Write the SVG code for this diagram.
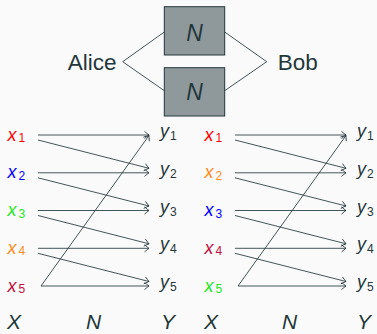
<svg xmlns="http://www.w3.org/2000/svg" width="377" height="334" viewBox="0 0 377 334">
<style>
text{font-family:"Liberation Sans","Noto Sans",sans-serif;fill:#23373b}
.lbl{font-size:18px;font-style:italic}
.sub{font-size:12px;font-style:normal}
.big{font-size:23px;font-style:italic}
.axis{font-size:21px;font-style:italic}
.name{font-size:22.5px}
.box{fill:#8f999c;stroke:#23373b;stroke-width:1}
.c{stroke:#23373b;stroke-width:0.85;fill:none}
.a{marker-end:url(#arr)}
</style>
<defs>
<marker id="arr" markerUnits="userSpaceOnUse" markerWidth="10" markerHeight="10" viewBox="-6 -5 8 10" refX="0" refY="0" orient="auto" overflow="visible">
<path d="M-4.5,-3.6 Q-1.5,-1 0,0 Q-1.5,1 -4.5,3.6" fill="none" stroke="#23373b" stroke-width="0.85"/>
</marker>
</defs>
<rect width="377" height="334" fill="#fafafa"/>

<g id="connectors">
<path class="c" d="M122.7,61.7 L164.3,32 M122.7,61.7 L164.3,90.7 M266.7,61.7 L224.7,32 M266.7,61.7 L224.7,90.7"/>
<!-- left panel -->
<line class="c a" x1="38" y1="135" x2="149" y2="135"/>
<line class="c a" x1="38" y1="172.8" x2="149" y2="172.8"/>
<line class="c a" x1="38" y1="210.5" x2="149" y2="210.5"/>
<line class="c a" x1="38" y1="248.3" x2="149" y2="248.3"/>
<line class="c a" x1="41" y1="286" x2="149" y2="286"/>
<line class="c a" x1="38" y1="140" x2="149" y2="168.3"/>
<line class="c a" x1="38" y1="177.8" x2="149" y2="206"/>
<line class="c a" x1="38" y1="215.5" x2="149" y2="243.8"/>
<line class="c a" x1="38" y1="253.3" x2="149" y2="281.5"/>
<line class="c a" x1="41" y1="286" x2="149" y2="135.5"/>
<!-- right panel -->
<line class="c a" x1="235" y1="135" x2="346" y2="135"/>
<line class="c a" x1="235" y1="172.8" x2="346" y2="172.8"/>
<line class="c a" x1="235" y1="210.5" x2="346" y2="210.5"/>
<line class="c a" x1="235" y1="248.3" x2="346" y2="248.3"/>
<line class="c a" x1="238" y1="286" x2="346" y2="286"/>
<line class="c a" x1="235" y1="140" x2="346" y2="168.3"/>
<line class="c a" x1="235" y1="177.8" x2="346" y2="206"/>
<line class="c a" x1="235" y1="215.5" x2="346" y2="243.8"/>
<line class="c a" x1="235" y1="253.3" x2="346" y2="281.5"/>
<line class="c a" x1="238" y1="286" x2="346" y2="135.5"/>
</g>

<g id="alice"><text class="name" x="67.7" y="70">Alice</text></g>
<g id="bob"><text class="name" x="277.7" y="70">Bob</text></g>
<g id="channel1">
<rect class="box" x="164.3" y="6.7" width="60.4" height="48.3"/>
<text class="big" x="194.5" y="40.5" text-anchor="middle">N</text>
</g>
<g id="channel2">
<rect class="box" x="164.3" y="67.7" width="60.4" height="48.3"/>
<text class="big" x="194.5" y="100" text-anchor="middle">N</text>
</g>

<g id="left-inputs">
<text class="lbl" x="7.5" y="140.5" style="fill:#ff0000">x<tspan class="sub" x="18.5" y="142" style="fill:#ff0000">1</tspan></text>
<text class="lbl" x="7.5" y="178.3" style="fill:#0000ff">x<tspan class="sub" x="18.5" y="179.8" style="fill:#0000ff">2</tspan></text>
<text class="lbl" x="7.5" y="216" style="fill:#22e822">x<tspan class="sub" x="18.5" y="217.5" style="fill:#22e822">3</tspan></text>
<text class="lbl" x="7.5" y="253.8" style="fill:#ff8c1a">x<tspan class="sub" x="18.5" y="255.3" style="fill:#ff8c1a">4</tspan></text>
<text class="lbl" x="7.5" y="291.5" style="fill:#c4103f">x<tspan class="sub" x="18.5" y="293" style="fill:#c4103f">5</tspan></text>
</g>
<g id="left-outputs">
<text class="lbl" x="160" y="137">y<tspan class="sub" x="170" y="140">1</tspan></text>
<text class="lbl" x="160" y="174.8">y<tspan class="sub" x="170" y="177.8">2</tspan></text>
<text class="lbl" x="160" y="212.5">y<tspan class="sub" x="170" y="215.5">3</tspan></text>
<text class="lbl" x="160" y="250.3">y<tspan class="sub" x="170" y="253.3">4</tspan></text>
<text class="lbl" x="160" y="288">y<tspan class="sub" x="170" y="291">5</tspan></text>
</g>
<g id="right-inputs">
<text class="lbl" x="204.5" y="140.5" style="fill:#ff0000">x<tspan class="sub" x="215.5" y="142" style="fill:#ff0000">1</tspan></text>
<text class="lbl" x="204.5" y="178.3" style="fill:#ff8c1a">x<tspan class="sub" x="215.5" y="179.8" style="fill:#ff8c1a">2</tspan></text>
<text class="lbl" x="204.5" y="216" style="fill:#0000ff">x<tspan class="sub" x="215.5" y="217.5" style="fill:#0000ff">3</tspan></text>
<text class="lbl" x="204.5" y="253.8" style="fill:#c4103f">x<tspan class="sub" x="215.5" y="255.3" style="fill:#c4103f">4</tspan></text>
<text class="lbl" x="204.5" y="291.5" style="fill:#22e822">x<tspan class="sub" x="215.5" y="293" style="fill:#22e822">5</tspan></text>
</g>
<g id="right-outputs">
<text class="lbl" x="357" y="137">y<tspan class="sub" x="367" y="140">1</tspan></text>
<text class="lbl" x="357" y="174.8">y<tspan class="sub" x="367" y="177.8">2</tspan></text>
<text class="lbl" x="357" y="212.5">y<tspan class="sub" x="367" y="215.5">3</tspan></text>
<text class="lbl" x="357" y="250.3">y<tspan class="sub" x="367" y="253.3">4</tspan></text>
<text class="lbl" x="357" y="288">y<tspan class="sub" x="367" y="291">5</tspan></text>
</g>
<g id="axis-labels">
<text class="axis" x="7" y="328.5">X</text>
<text class="axis" x="86" y="328.5">N</text>
<text class="axis" x="161" y="328.5">Y</text>
<text class="axis" x="204" y="328.5">X</text>
<text class="axis" x="282" y="328.5">N</text>
<text class="axis" x="357" y="328.5">Y</text>
</g>
</svg>
